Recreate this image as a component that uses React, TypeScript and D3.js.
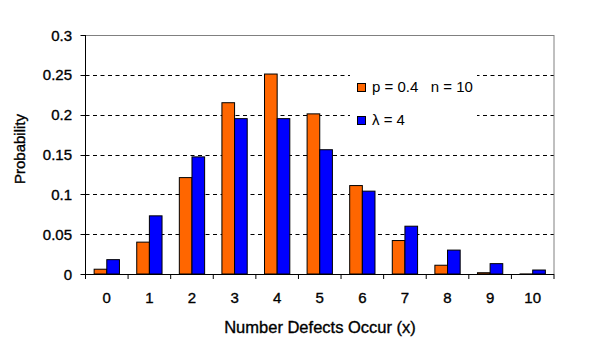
import React from "react";
import * as d3 from "d3";

const categories = ["0", "1", "2", "3", "4", "5", "6", "7", "8", "9", "10"];
const binomial = [0.006, 0.04, 0.121, 0.215, 0.251, 0.201, 0.111, 0.042, 0.011, 0.0016, 0.0001];
const poisson = [0.018, 0.073, 0.147, 0.195, 0.195, 0.156, 0.104, 0.06, 0.03, 0.013, 0.005];
const yTicks = [0, 0.05, 0.1, 0.15, 0.2, 0.25, 0.3];
const seriesNames = ["p = 0.4   n = 10", "\u03bb = 4"];
const colors = ["#FF6600", "#0000FF"];

export default function App() {
  const W = 592, H = 350;
  const left = 85.5, right = 554, top = 35, bottom = 274;
  const x = d3.scaleBand<string>().domain(categories).range([left, right]).paddingInner(0).paddingOuter(0);
  const y = d3.scaleLinear().domain([0, 0.3]).range([bottom, top]);
  const bw = x.bandwidth();
  const barW = bw * 0.297;
  const font = "'Liberation Sans', Arial, sans-serif";
  const series = [binomial, poisson];
  const heavy = { stroke: "#000", strokeWidth: 0.35 };
  return (
    <svg width={W} height={H} style={{ position: "absolute", left: 0, top: 0 }} fontFamily={font}>
      <rect x={0} y={0} width={W} height={H} fill="#fff" />
      {yTicks.filter(t => t > 0 && t < 0.3).map(t => (
        <line key={t} x1={left} x2={right} y1={Math.round(y(t)) + 0.5} y2={Math.round(y(t)) + 0.5} stroke="#000" strokeDasharray="4,3.5" />
      ))}
      <line x1={left} x2={right} y1={top + 0.5} y2={top + 0.5} stroke="#808080" />
      <line x1={right} x2={right} y1={top} y2={bottom} stroke="#808080" />
      {series.map((vals, si) =>
        vals.map((v, i) => {
          const cx = (x(categories[i]) as number) + bw / 2;
          const bx = cx - barW + si * barW;
          const yy = y(v);
          return (
            <rect key={si + "-" + i} x={bx} y={yy} width={barW} height={Math.max(bottom - yy, 0.5)} fill={colors[si]} stroke="#000" strokeWidth={1} />
          );
        })
      )}
      <line x1={left} x2={left} y1={top} y2={bottom} stroke="#000" />
      <line x1={left} x2={right} y1={bottom + 0.5} y2={bottom + 0.5} stroke="#000" />
      {yTicks.map(t => (
        <g key={t}>
          <line x1={left - 5} x2={left} y1={Math.round(y(t)) + 0.5} y2={Math.round(y(t)) + 0.5} stroke="#000" />
          <text x={72} y={y(t) + 5.5} textAnchor="end" fontSize={15} {...heavy}>{t}</text>
        </g>
      ))}
      {categories.concat(["end"]).map((c, i) => {
        const xx = left + i * bw;
        return <line key={"t" + i} x1={xx} x2={xx} y1={bottom} y2={bottom + 5} stroke="#000" />;
      })}
      {categories.map(c => (
        <text key={c} x={(x(c) as number) + bw / 2} y={303} textAnchor="middle" fontSize={15} {...heavy}>{c}</text>
      ))}
      <text x={320} y={333} textAnchor="middle" fontSize={16.5} {...heavy}>Number Defects Occur (x)</text>
      <text transform={`translate(25, 149) rotate(-90)`} textAnchor="middle" fontSize={15} {...heavy}>Probability</text>
      <rect x={350} y={70} width={127} height={62} fill="#fff" />
      {seriesNames.map((n, i) => (
        <g key={n}>
          <rect x={357.5} y={83.5 + i * 33} width={8} height={8} fill={colors[i]} stroke="#000" />
          <text x={372} y={92 + i * 33} fontSize={15} style={{ whiteSpace: "pre" }}>{n}</text>
        </g>
      ))}
    </svg>
  );
}
